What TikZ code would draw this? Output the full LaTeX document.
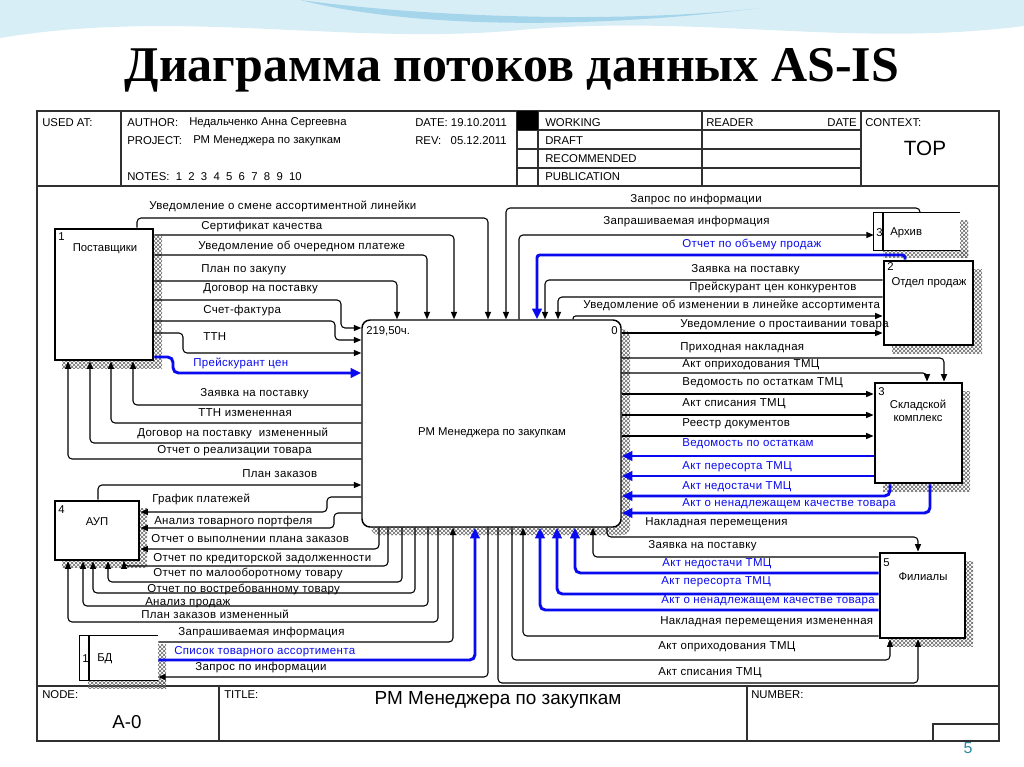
\documentclass[tikz,border=0pt]{standalone}
\usepackage{fontspec}
\setmainfont{Liberation Sans}
\newfontfamily\titlefont{Liberation Serif}
\newfontfamily\lblfamily{Liberation Sans}[LetterSpace=3]
\usetikzlibrary{arrows.meta,fit,patterns}
\definecolor{flowblue}{HTML}{0A0AF0}
\definecolor{framegray}{HTML}{303030}
\definecolor{wavelight}{HTML}{D8EEF6}
\definecolor{wavemid}{HTML}{8FCBE6}
\definecolor{pagenum}{HTML}{2E8A9E}
\tikzset{
  flow/.style={draw=black, line width=0.8pt, rounded corners=3pt,
    -{Triangle[length=5.5pt,width=4.5pt]}},
  blue flow/.style={draw=flowblue, line width=2.2pt, rounded corners=4pt,
    -{Triangle[length=8pt,width=7pt]}},
  flow label/.style={font=\lblfamily\fontsize{8.6}{10}\selectfont, anchor=west, inner sep=0pt},
  blue label/.style={flow label, text=flowblue},
  ext box/.style={draw, line width=2.2pt, fill=white, inner sep=0pt},
  act box/.style={draw, line width=1.1pt, fill=white, rounded corners=6pt, inner sep=0pt},
  store/.style={inner sep=0pt},
  store line/.style={draw, line width=0.9pt},
  hatch/.style={pattern=crosshatch, pattern color=black!60},
  frame line/.style={draw=framegray, line width=0.9pt},
  head text/.style={font=\fontsize{8.5}{10}\selectfont, anchor=west, inner sep=0pt},
  box text/.style={font=\fontsize{8.5}{10}\selectfont, inner sep=0pt, align=center},
}

\begin{document}
\begin{tikzpicture}[x=0.75pt, y=-0.75pt]
  \useasboundingbox (0,0) rectangle (1024,767);
  \fill[white] (0,0) rectangle (1024,767);

  % --- slide background ---
  \fill[wavelight] (0,0) -- (1024,0) -- (1024,26) .. controls (850,48) and (700,14) .. (520,30)
    .. controls (350,46) and (180,8) .. (0,38) -- cycle;
  \fill[wavemid, opacity=0.7] (300,0) .. controls (420,30) and (600,28) .. (760,8)
    .. controls (640,22) and (450,20) .. (300,0) -- cycle;
  \node[font=\titlefont\bfseries\fontsize{37.5}{44}\selectfont] (title) at (512,70)
    {Диаграмма потоков данных AS-IS};
  \node[font=\fontsize{12}{14}\selectfont, text=pagenum] (page) at (968,748) {5};

  % --- form frame ---
  \draw[frame line] (37,111) rectangle (999,741);
  \draw[frame line] (37,186) -- (999,186);
  \draw[frame line] (37,686) -- (999,686);
  \foreach \x in {121,517,538,702,861}
    \draw[frame line] (\x,111) -- (\x,186);
  \foreach \y in {130,149,168}
    \draw[frame line] (517,\y) -- (861,\y);
  \fill[black] (517,111) rectangle (538,130);
  \draw[frame line] (219,686) -- (219,741);
  \draw[frame line] (747,686) -- (747,741);
  \draw[frame line] (933,724) rectangle (999,741);

  \node[head text] (usedat) at (42,123) {USED AT:};
  \node[head text] (author) at (127,123) {AUTHOR:};
  \node[head text] at (189,123) {Недальченко Анна Сергеевна};
  \node[head text] (project) at (127,141) {PROJECT:};
  \node[head text] at (193,141) {РМ Менеджера по закупкам};
  \node[head text] (notes) at (127,177) {NOTES:\ \ 1\ \ 2\ \ 3\ \ 4\ \ 5\ \ 6\ \ 7\ \ 8\ \ 9\ \ 10};
  \node[head text] (date) at (415,123) {DATE: 19.10.2011};
  \node[head text] (rev) at (415,141) {REV:\ \ \ 05.12.2011};
  \node[head text] at (545,123) {WORKING};
  \node[head text] at (545,141) {DRAFT};
  \node[head text] at (545,159) {RECOMMENDED};
  \node[head text] at (545,177) {PUBLICATION};
  \node[head text] (reader) at (706,123) {READER};
  \node[head text, anchor=east] at (857,123) {DATE};
  \node[head text] (context) at (865,123) {CONTEXT:};
  \node[font=\fontsize{15.5}{18}\selectfont, inner sep=0pt] (top) at (925,148) {TOP};
  \node[head text] (node) at (42,695) {NODE:};
  \node[font=\fontsize{14}{16}\selectfont, inner sep=0pt] (a0) at (127,722) {A-0};
  \node[head text] (titlelbl) at (224,695) {TITLE:};
  \node[font=\fontsize{14.2}{17}\selectfont, inner sep=0pt] (ftitle) at (498,700)
    {РМ Менеджера по закупкам};
  \node[head text] (number) at (751,695) {NUMBER:};

  % --- shadows ---
  \fill[hatch, rounded corners=6pt] (371,329) rectangle (630,535);
  \fill[hatch] (62,236) rectangle (162,368);
  \fill[hatch] (892,269) rectangle (982,353);
  \fill[hatch] (883,391) rectangle (970,491);
  \fill[hatch] (62,508) rectangle (147,567);
  \fill[hatch] (888,561) rectangle (973,646);
  \fill[hatch] (960,220) rectangle (968,257);
  \fill[hatch] (883,250) rectangle (968,257);
  \fill[hatch] (158,644) rectangle (166,688);
  \fill[hatch] (88,680) rectangle (166,688);

  % --- boxes ---
  \node[act box, fit={(362,320) (621,527)}] (main) {};
  \node[ext box, fit={(55,229) (153,360)}] (sup) {};
  \node[ext box, fit={(884,261) (973,345)}] (sales) {};
  \node[ext box, fit={(875,383) (962,483)}] (stock) {};
  \node[ext box, fit={(55,501) (139,560)}] (aup) {};
  \node[ext box, fit={(880,553) (965,638)}] (fil) {};
  \node[store, fit={(874,213) (960,250)}] (arch) {};
  \node[store, fit={(80,636) (158,680)}] (db) {};
  \fill[white] (arch.north west) rectangle (arch.south east);
  \fill[white] (db.north west) rectangle (db.south east);
  \draw[store line] (arch.north east) -- (arch.north west) -- (arch.south west) -- (arch.south east);
  \draw[store line] (883,0 |- arch.north) -- (883,0 |- arch.south);
  \draw[store line] (db.north east) -- (db.north west) -- (db.south west) -- (db.south east);
  \draw[store line] (89,0 |- db.north) -- (89,0 |- db.south);

  \node[box text] at (492,433) {РМ Менеджера по закупкам};
  \node[box text, anchor=west] at (366,331) {219,50ч.};
  \node[box text, anchor=east] at (618,331) {0};
  \node[box text, anchor=west] at (58,237) {1};
  \node[box text] at (105,249) {Поставщики};
  \node[box text, anchor=west] at (887,267) {2};
  \node[box text] at (929,283) {Отдел продаж};
  \node[box text, anchor=west] at (876,233) {3};
  \node[box text, anchor=west] at (890,233) {Архив};
  \node[box text, anchor=west] at (878,392) {3};
  \node[box text] at (918,411) {Складской\\комплекс};
  \node[box text, anchor=west] at (58,510) {4};
  \node[box text] at (97,522) {АУП};
  \node[box text, anchor=west] at (883,563) {5};
  \node[box text] at (923,577) {Филиалы};
  \node[box text, anchor=west] at (82,659) {1};
  \node[box text, anchor=west] at (97,659) {БД};

  % --- Поставщики -> work ---
  \draw[flow] (137,0 |- sup.north) -- (137,218) -- (488,218) -- (488,0 |- main.north);
  \draw[flow] (sup.east |- 0,235) -- (454,235) -- (454,0 |- main.north);
  \draw[flow] (sup.east |- 0,255) -- (427,255) -- (427,0 |- main.north);
  \draw[flow] (sup.east |- 0,281) -- (397,281) -- (397,0 |- main.north);
  \draw[flow] (sup.east |- 0,300) -- (341,300) -- (341,328) -- (main.west |- 0,328);
  \draw[flow] (sup.east |- 0,321) -- (335,321) -- (335,340) -- (main.west |- 0,340);
  \draw[flow] (sup.east |- 0,333) -- (183,333) -- (183,353) -- (main.west |- 0,353);
  \draw[blue flow] (sup.east |- 0,357) -- (173,357) -- (173,373) -- (main.west |- 0,373);

  % --- work -> Поставщики ---
  \draw[flow] (main.west |- 0,405) -- (133,405) -- (133,0 |- sup.south);
  \draw[flow] (main.west |- 0,423) -- (111,423) -- (111,0 |- sup.south);
  \draw[flow] (main.west |- 0,443) -- (90,443) -- (90,0 |- sup.south);
  \draw[flow] (main.west |- 0,459) -- (68,459) -- (68,0 |- sup.south);

  % --- АУП ---
  \draw[flow] (98,0 |- aup.north) -- (98,485) -- (main.west |- 0,485);
  \draw[flow] (main.west |- 0,497) -- (327,497) -- (327,512) -- (aup.east |- 0,512);
  \draw[flow] (main.west |- 0,513) -- (334,513) -- (334,528) -- (aup.east |- 0,528);
  \draw[flow] (379,0 |- main.south) -- (379,549) -- (aup.east |- 0,549);
  \draw[flow] (388,0 |- main.south) -- (388,566) -- (124,566) -- (124,0 |- aup.south);
  \draw[flow] (402,0 |- main.south) -- (402,582) -- (108,582) -- (108,0 |- aup.south);
  \draw[flow] (415,0 |- main.south) -- (415,593) -- (93,593) -- (93,0 |- aup.south);
  \draw[flow] (428,0 |- main.south) -- (428,606) -- (83,606) -- (83,0 |- aup.south);
  \draw[flow] (438,0 |- main.south) -- (438,622) -- (68,622) -- (68,0 |- aup.south);

  % --- БД ---
  \draw[flow] (db.east |- 0,642) -- (453,642) -- (453,0 |- main.south);
  \draw[blue flow] (db.east |- 0,660) -- (475,660) -- (475,0 |- main.south);
  \draw[flow] (488,0 |- main.south) -- (488,677) -- (db.east |- 0,677);

  % --- Филиалы ---
  \draw[flow] (607,0 |- main.south) -- (607,537) -- (918,537) -- (918,0 |- fil.north);
  \draw[flow] (fil.west |- 0,557) -- (593,557) -- (593,0 |- main.south);
  \draw[blue flow] (fil.west |- 0,573) -- (575,573) -- (575,0 |- main.south);
  \draw[blue flow] (fil.west |- 0,594) -- (557,594) -- (557,0 |- main.south);
  \draw[blue flow] (fil.west |- 0,610) -- (540,610) -- (540,0 |- main.south);
  \draw[flow] (fil.west |- 0,636) -- (523,636) -- (523,0 |- main.south);
  \draw[flow] (512,0 |- main.south) -- (512,660) -- (890,660) -- (890,0 |- fil.south);
  \draw[flow] (498,0 |- main.south) -- (498,683) -- (918,683) -- (918,0 |- fil.south);

  % --- Складской комплекс ---
  \draw[flow] (main.east |- 0,358) -- (944,358) -- (944,0 |- stock.north);
  \draw[flow] (main.east |- 0,373) -- (927,373) -- (927,0 |- stock.north);
  \draw[flow] (main.east |- 0,394) -- (stock.west |- 0,394);
  \draw[flow] (main.east |- 0,415) -- (stock.west |- 0,415);
  \draw[flow] (main.east |- 0,436) -- (stock.west |- 0,436);
  \draw[blue flow] (stock.west |- 0,456) -- (main.east |- 0,456);
  \draw[blue flow] (stock.west |- 0,476) -- (main.east |- 0,476);
  \draw[blue flow] (890,0 |- stock.south) -- (890,496) -- (main.east |- 0,496);
  \draw[blue flow] (930,0 |- stock.south) -- (930,513) -- (main.east |- 0,513);

  % --- Архив, Отдел продаж ---
  \draw[flow] (920,0 |- arch.north) -- (920,208) -- (506,208) -- (506,0 |- main.north);
  \draw[flow] (519,0 |- main.north) -- (519,235) -- (arch.west |- 0,235);
  \draw[blue flow, rounded corners=2pt] (905,0 |- sales.north) -- (905,255) -- (537,255)
    -- (537,0 |- main.north);
  \draw[flow] (sales.west |- 0,280) -- (545,280) -- (545,0 |- main.north);
  \draw[flow] (sales.west |- 0,297) -- (558,297) -- (558,0 |- main.north);
  \draw[flow, rounded corners=2pt] (573,0 |- main.north) -- (573,316) -- (sales.west |- 0,316);
  \draw[flow] (main.east |- 0,333) -- (sales.west |- 0,333);

  % --- labels, left ---
  \node[flow label] at (149,206) {Уведомление о смене ассортиментной линейки};
  \node[flow label] at (201,227) {Сертификат качества};
  \node[flow label] at (198,246) {Уведомление об очередном платеже};
  \node[flow label] at (201,270) {План по закупу};
  \node[flow label] at (203,289) {Договор на поставку};
  \node[flow label] at (203,311) {Счет-фактура};
  \node[flow label] at (203,337) {ТТН};
  \node[blue label] at (193,363) {Прейскурант цен};
  \node[flow label] at (200,394) {Заявка на поставку};
  \node[flow label] at (198,413) {ТТН измененная};
  \node[flow label] at (137,433) {Договор на поставку\ \ измененный};
  \node[flow label] at (157,451) {Отчет о реализации товара};
  \node[flow label] at (242,474) {План заказов};
  \node[flow label] at (152,499) {График платежей};
  \node[flow label] at (154,522) {Анализ товарного портфеля};
  \node[flow label] at (151,539) {Отчет о выполнении плана заказов};
  \node[flow label] at (153,558) {Отчет по кредиторской задолженности};
  \node[flow label] at (153,573) {Отчет по малооборотному товару};
  \node[flow label] at (147,589) {Отчет по востребованному товару};
  \node[flow label] at (145,603) {Анализ продаж};
  \node[flow label] at (141,614) {План заказов измененный};
  \node[flow label] at (178,633) {Запрашиваемая информация};
  \node[blue label] at (174,652) {Список товарного ассортимента};
  \node[flow label] at (195,668) {Запрос по информации};

  % --- labels, right ---
  \node[flow label] at (630,200) {Запрос по информации};
  \node[flow label] at (603,222) {Запрашиваемая информация};
  \node[blue label] at (682,244) {Отчет по объему продаж};
  \node[flow label] at (691,270) {Заявка на поставку};
  \node[flow label] at (689,287) {Прейскурант цен конкурентов};
  \node[flow label] at (583,305) {Уведомление об изменении в линейке ассортимента};
  \node[flow label] at (680,325) {Уведомление о простаивании товара};
  \node[flow label] at (680,348) {Приходная накладная};
  \node[flow label] at (682,365) {Акт оприходования ТМЦ};
  \node[flow label] at (682,383) {Ведомость по остаткам ТМЦ};
  \node[flow label] at (682,404) {Акт списания ТМЦ};
  \node[flow label] at (682,424) {Реестр документов};
  \node[blue label] at (682,444) {Ведомость по остаткам};
  \node[blue label] at (682,467) {Акт пересорта ТМЦ};
  \node[blue label] at (682,487) {Акт недостачи ТМЦ};
  \node[blue label] at (682,504) {Акт о ненадлежащем качестве товара};
  \node[flow label] at (645,523) {Накладная перемещения};
  \node[flow label] at (648,546) {Заявка на поставку};
  \node[blue label] at (662,564) {Акт недостачи ТМЦ};
  \node[blue label] at (661,582) {Акт пересорта ТМЦ};
  \node[blue label] at (661,601) {Акт о ненадлежащем качестве товара};
  \node[flow label] at (660,622) {Накладная перемещения измененная};
  \node[flow label] at (658,647) {Акт оприходования ТМЦ};
  \node[flow label] at (658,673) {Акт списания ТМЦ};

\end{tikzpicture}
\end{document}
